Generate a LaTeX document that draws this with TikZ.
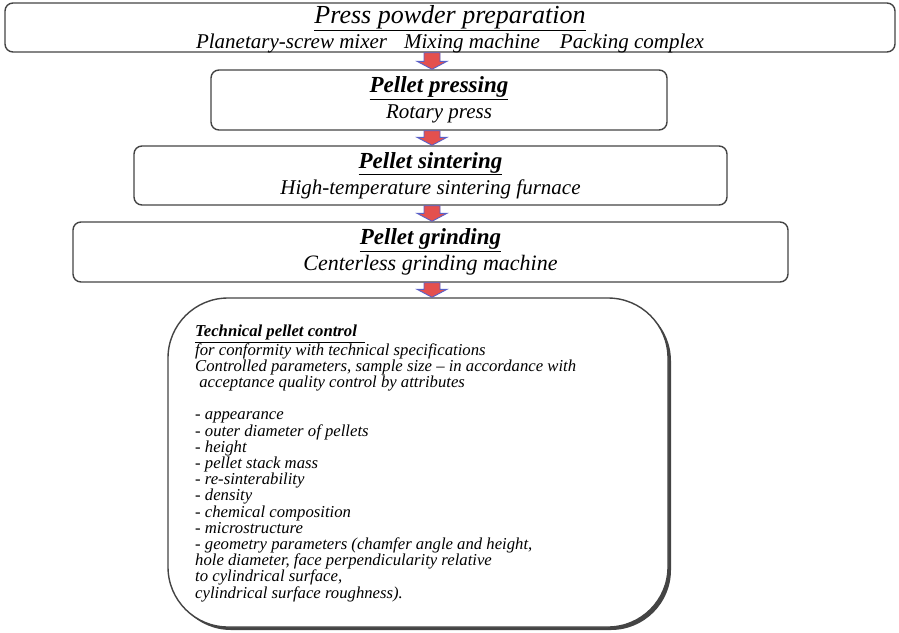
\documentclass[tikz,border=0pt]{standalone}
\usepackage{fontspec}
\setmainfont{Liberation Serif}
\usetikzlibrary{calc,shadows}
\definecolor{edge}{HTML}{444444}
\definecolor{arrowfill}{HTML}{E4504E}
\definecolor{arrowline}{HTML}{5860C8}
\begin{document}
\begin{tikzpicture}[x=1pt,y=-1pt,
  stagebox/.style={draw=edge,line width=1.4pt,rounded corners=8pt,fill=white,
    align=center,inner sep=0pt},
  blk/.style={fill=arrowfill,draw=arrowline,line width=0.9pt,line join=miter},
  ctlbox/.style={draw=edge,line width=1.4pt,rounded corners=60pt,fill=white,
    drop shadow={shadow xshift=3pt,shadow yshift=-3pt,fill=edge,opacity=1}}]
\useasboundingbox (0,0) rectangle (899,632);

% process stages
\node[stagebox,minimum width=890pt,minimum height=49pt] (b1) at (450,27.5) {};
\node[align=center,inner sep=0pt,font=\fontsize{21}{25}\selectfont\itshape]
  (t1) at ($(b1.center)+(0,1.5)$)
  {{\fontsize{26}{26}\selectfont\underline{Press powder preparation}}\\
   Planetary-screw mixer\hspace{17pt}Mixing machine\hspace{20pt}Packing complex};
\node[stagebox,minimum width=456pt,minimum height=60pt,
  font=\fontsize{21}{26}\selectfont\itshape] (b2) at (439,100)
  {{\fontsize{23}{26}\selectfont\bfseries\underline{Pellet pressing}}\\ Rotary press};
\node[stagebox,minimum width=593pt,minimum height=59pt,
  font=\fontsize{21}{26}\selectfont\itshape] (b3) at (430.5,175.5)
  {{\fontsize{23}{26}\selectfont\bfseries\underline{Pellet sintering}}\\ High-temperature sintering furnace};
\node[stagebox,minimum width=715pt,minimum height=60pt,
  font=\fontsize{22}{26}\selectfont\itshape] (b4) at (430.5,252)
  {{\fontsize{23}{26}\selectfont\bfseries\underline{Pellet grinding}}\\ Centerless grinding machine};

% final inspection
\node[ctlbox,minimum width=500pt,minimum height=329pt] (b5) at (418,462.5) {};
\node[anchor=north west,inner sep=0pt,align=left,
  font=\fontsize{16.7}{16.2}\selectfont\itshape] (txt) at (195,325)
  {{\bfseries\underline{Technical pellet control\ \ }}\\
   for conformity with technical specifications\\
   Controlled parameters, sample size -- in accordance with\\
   \ acceptance quality control by attributes\\
   \mbox{}\\
   - appearance\\
   - outer diameter of pellets\\
   - height\\
   - pellet stack mass\\
   - re-sinterability\\
   - density\\
   - chemical composition\\
   - microstructure\\
   - geometry parameters (chamfer angle and height,\\
   hole diameter, face perpendicularity relative\\
   to cylindrical surface,\\
   cylindrical surface roughness).};

% block arrows between stages
\coordinate (ax) at (432,0);
\foreach \a/\b in {b1/b2,b2/b3,b3/b4,b4/b5}{
  \draw[blk] let \p1=(\a.south -| ax), \p2=(\b.north -| ax) in
    (\x1-8pt,\y1) -- (\x1-8pt,\y2+8pt) -- (\x1-15pt,\y2+8pt) -- (\x2,\y2)
    -- (\x1+15pt,\y2+8pt) -- (\x1+8pt,\y2+8pt) -- (\x1+8pt,\y1) -- cycle;
}
\end{tikzpicture}
\end{document}
